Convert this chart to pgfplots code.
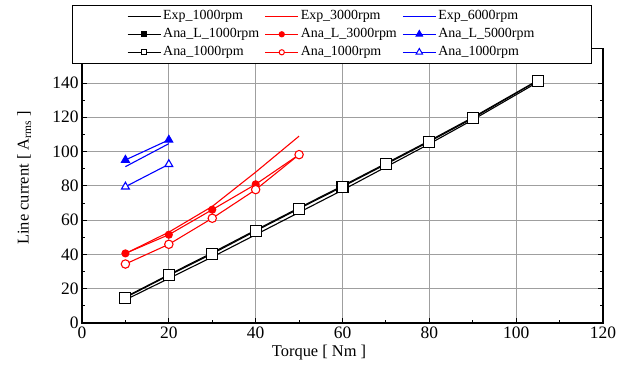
\documentclass[border=0pt]{standalone}
\usepackage{fontspec}
\setmainfont{Liberation Serif}
\usepackage{pgfplots}
\pgfplotsset{compat=1.18}
\begin{document}
\begin{tikzpicture}
\useasboundingbox (0,0) rectangle (630bp,367bp);
\begin{axis}[
  at={(82bp,44bp)}, anchor=south west,
  scale only axis, width=521bp, height=274.3bp,
  xmin=0, xmax=120, ymin=0, ymax=160,
  xtick={0,20,...,120}, ytick={0,20,...,140},
  minor x tick num=1, minor y tick num=1,
  grid=major, major grid style={gray!75, line width=0.9bp},
  axis line style={line width=1.1bp},
  tick style={black, line width=0.9bp},
  major tick length=5bp, minor tick length=3bp,
  tick align=inside,
  /pgf/number format/assume math mode=true,
  ticklabel style={font=\fontsize{17.5}{17.5}\selectfont},
  label style={font=\fontsize{16.5}{19}\selectfont},
  xlabel={Torque [ Nm ]},
  ylabel={Line current [ A\textsubscript{rms} ]},
  xlabel style={at={(axis description cs:0.455,-0.109)}, anchor=center},
  ylabel style={at={(axis description cs:-0.111,0.529)}, anchor=center},
  legend columns=3,
  legend cell align=left,
  legend image code/.code={%
    \draw[line width=1bp, mark=none] (0bp,0bp) -- (33bp,0bp);
    \draw[line width=1bp] plot coordinates {(16.5bp,0bp)};},
  legend style={at={(axis description cs:-0.0192,1.159)}, anchor=north west,
    font=\fontsize{14}{16}\selectfont, draw=black, fill=white,
    inner xsep=55bp, inner ysep=2bp,
    /tikz/every even column/.append style={column sep=3.5bp},
    nodes={inner sep=2bp, text height=10bp, text depth=4bp}},
]
\addplot[black, line width=1.1bp] coordinates {(10,13.5)(20,26)(30,38.5)(40,51.5)(50,64.5)(60,77.5)(70,91)(80,104.5)(90,118.5)(105,140.5)};
\addlegendentry{Exp\_1000rpm}
\addplot[red, line width=1.1bp] coordinates {(10,40.5)(20,53)(30,68)(40,88)(50,109)};
\addlegendentry{Exp\_3000rpm}
\addplot[blue, line width=1.1bp] coordinates {(10,91.2)(20,104.6)};
\addlegendentry{Exp\_6000rpm}
\addplot[black, line width=1.1bp, mark=square*, mark size=3.2bp, mark options={solid}, legend image post style={mark size=2.4bp}] coordinates {(10,15.2)(20,28.2)(30,41)(40,54.2)(50,67.2)(60,80)(70,93.1)(80,106.3)(90,119.9)(105,141.6)};
\addlegendentry{Ana\_L\_1000rpm}
\addplot[red, line width=1.1bp, mark=*, mark size=3.5bp, mark options={solid}, legend image post style={mark size=2.6bp}] coordinates {(10,40.6)(20,51.5)(30,66.1)(40,80.9)(50,98.2)};
\addlegendentry{Ana\_L\_3000rpm}
\addplot[blue, line width=1.1bp, mark=triangle*, mark size=4.5bp, mark options={solid}, legend image post style={mark size=3.8bp}] coordinates {(10,95.1)(20,106.8)};
\addlegendentry{Ana\_L\_5000rpm}
\addplot[black, line width=1.1bp, mark=square*, mark size=5.5bp, mark options={solid, fill=white}, legend image post style={mark size=2.6bp}] coordinates {(10,14.8)(20,27.8)(30,40.4)(40,53.7)(50,66.7)(60,79.5)(70,92.6)(80,105.8)(90,119.4)(105,141.4)};
\addlegendentry{Ana\_1000rpm}
\addplot[red, line width=1.1bp, mark=*, mark size=4.2bp, mark options={solid, fill=white}, legend image post style={mark size=2.6bp}] coordinates {(10,34.4)(20,45.9)(30,61.1)(40,77.8)(50,98.2)};
\addlegendentry{Ana\_1000rpm}
\addplot[blue, line width=1.1bp, mark=triangle*, mark size=4.5bp, mark options={solid, fill=white}, legend image post style={mark size=3.8bp}] coordinates {(10,79.5)(20,92.6)};
\addlegendentry{Ana\_1000rpm}
\end{axis}
\end{tikzpicture}
\end{document}
